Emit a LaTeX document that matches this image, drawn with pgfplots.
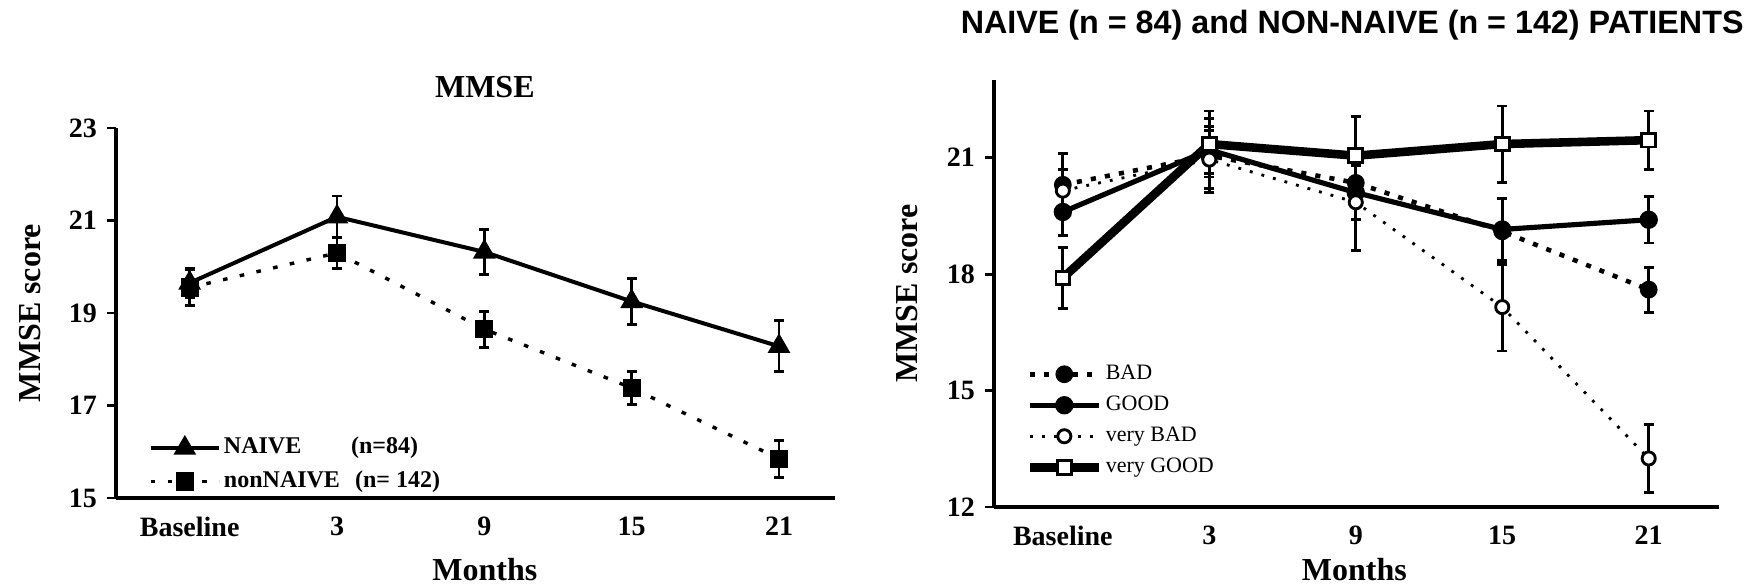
\documentclass[border=0pt]{standalone}
\usepackage{fontspec}
\setmainfont{Liberation Serif}
\newfontfamily\arialfont{Liberation Sans}
\usepackage{pgfplots}
\pgfplotsset{compat=1.18}
\usepackage{pgfplotstable}

% left panel
\pgfplotstableread{
x y e
0 19.65 0.32
1 21.08 0.45
2 20.32 0.48
3 19.25 0.49
4 18.28 0.55
}\naive
\pgfplotstableread{
x y e
0 19.55 0.38
1 20.30 0.33
2 18.65 0.39
3 17.38 0.36
4 15.85 0.40
}\nonnaive
% right panel
\pgfplotstableread{
x y e
0 20.30 0.80
1 21.05 0.95
2 20.35 0.60
3 19.10 0.85
4 17.60 0.58
}\bad
\pgfplotstableread{
x y e
0 19.60 0.60
1 21.20 0.60
2 20.10 0.70
3 19.15 0.80
4 19.40 0.60
}\good
\pgfplotstableread{
x y e
0 20.15 0.55
1 20.95 0.75
2 19.85 1.25
3 17.15 1.13
4 13.25 0.88
}\verybad
\pgfplotstableread{
x y e
0 17.90 0.78
1 21.35 0.85
2 21.05 1.00
3 21.35 0.98
4 21.45 0.75
}\verygood

\pgfplotsset{
  panel/.style={
    scale only axis, clip=false,
    axis x line*=bottom, axis y line*=left,
    axis line style={-, line width=1.3pt, black},
    xtick={0,1,2,3,4},
    xticklabels={Baseline,3,9,15,21},
    major x tick style={draw=none},
    major y tick style={line width=1pt, black},
    tick align=outside,
    major tick length=3.15pt,
    /pgf/number format/assume math mode=true,
    tick label style={font=\bfseries\fontsize{9.8}{10}\selectfont},
    error bars/y dir=both, error bars/y explicit,
    error bars/error bar style={line width=1pt, solid, black},
    error bars/error mark options={rotate=90, mark size=1.8pt, line width=1pt, black, solid},
    legend image code/.code={\draw[mark repeat=2,mark phase=2,#1] plot coordinates {(0pt,0pt)(12pt,0pt)(24pt,0pt)};},
  }
}

\begin{document}
\begin{tikzpicture}
\path[use as bounding box] (0,0) rectangle (614.25pt,-205.45pt);

% ---------------- left panel ----------------
\begin{axis}[panel,
  at={(40.6pt,-174.3pt)}, anchor=south west,
  width=251.65pt, height=129.5pt,
  xmin=-0.5, xmax=4.38, ymin=15, ymax=23,
  ytick={15,17,19,21,23},
  ylabel={MMSE score},
  xlabel={Months},
  every axis y label/.style={at={(axis description cs:0,0.5)}, xshift=-30.1pt, rotate=90, anchor=center, font=\bfseries\fontsize{11.2}{12}\selectfont},
  every axis x label/.style={at={(axis description cs:0.513,0)}, yshift=-25.2pt, anchor=center, font=\bfseries\fontsize{11.2}{12}\selectfont},
  title={MMSE},
  title style={at={(axis description cs:0.513,1)}, anchor=center, yshift=8.4pt, font=\bfseries\fontsize{11.2}{12}\selectfont},
  legend style={at={(axis description cs:0.0445,0.175)}, anchor=north west, draw=none, fill=none,
    inner sep=0pt, font=\bfseries\fontsize{8.4}{9}\selectfont,
    nodes={inner sep=1pt, text height=6pt, text depth=2pt}, row sep=1.7pt},
  legend cell align=left,
]
\addplot[black, line width=1.4pt, mark=triangle*, mark size=3.2pt, mark options={solid}]
  table[x=x, y=y, y error=e] {\naive};
\addlegendentry{\makebox[44.5pt][l]{NAIVE}(n=84)}
\addplot[black, line width=1.2pt, dash pattern=on 1.6pt off 4.4pt, mark=square*, mark size=2.6pt, mark options={solid}]
  table[x=x, y=y, y error=e] {\nonnaive};
\addlegendentry{\makebox[45.9pt][l]{nonNAIVE}(n= 142)}
\end{axis}

% ---------------- right panel ----------------
\begin{axis}[panel,
  at={(347.9pt,-177.45pt)}, anchor=south west,
  width=253.75pt, height=149.45pt,
  xmin=-0.47, xmax=4.48, ymin=12, ymax=23,
  ytick={12,15,18,21},
  ylabel={MMSE score},
  xlabel={Months},
  every axis y label/.style={at={(axis description cs:0,0.5)}, xshift=-30.45pt, rotate=90, anchor=center, font=\bfseries\fontsize{11.2}{12}\selectfont},
  every axis x label/.style={at={(axis description cs:0.497,0)}, yshift=-21.8pt, anchor=center, font=\bfseries\fontsize{11.2}{12}\selectfont},
  title={NAIVE (n = 84) and NON-NAIVE (n = 142) PATIENTS},
  title style={at={(axis description cs:0.494,1)}, anchor=center, yshift=13.3pt, font=\arialfont\bfseries\fontsize{11.3}{12}\selectfont},
  legend style={at={(axis description cs:0.043,0.344)}, anchor=north west, draw=none, fill=none,
    inner sep=0pt, font=\fontsize{7.7}{8}\selectfont,
    nodes={inner sep=1pt, text height=5.5pt, text depth=2pt}, row sep=1.35pt},
  legend cell align=left,
]
\addplot[black, line width=1.6pt, dash pattern=on 1.8pt off 3.2pt, mark=*, mark size=2.3pt, mark options={solid}]
  table[x=x, y=y, y error=e] {\bad};
\addlegendentry{BAD}
\addplot[black, line width=1.8pt, mark=*, mark size=2.3pt, mark options={solid}]
  table[x=x, y=y, y error=e] {\good};
\addlegendentry{GOOD}
\addplot[black, line width=1pt, dash pattern=on 1pt off 3.2pt, mark=*, mark size=2.3pt, mark options={solid, fill=white, line width=1pt}]
  table[x=x, y=y, y error=e] {\verybad};
\addlegendentry{very BAD}
\addplot[black, line width=3pt, mark=square*, mark size=2.4pt, mark options={solid, fill=white, line width=1pt}]
  table[x=x, y=y, y error=e] {\verygood};
\addlegendentry{very GOOD}
\end{axis}
\end{tikzpicture}
\end{document}
